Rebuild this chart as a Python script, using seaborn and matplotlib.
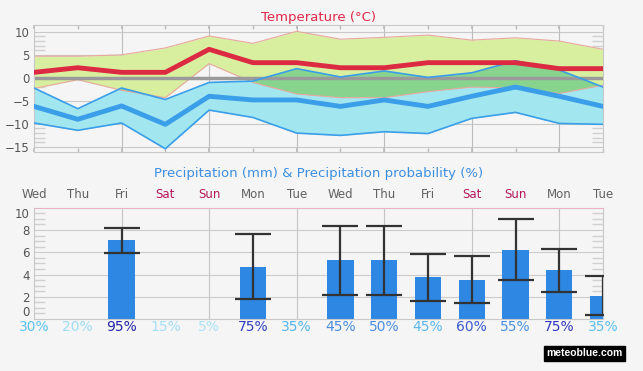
import numpy as np
import pandas as pd
import matplotlib
matplotlib.use("Agg")
import matplotlib.pyplot as plt
import matplotlib.transforms as mtransforms
import seaborn as sns

sns.set_theme(style="white")
plt.rcParams['font.family'] = ['DejaVu Sans']

# ---------------- data ----------------
days = ["Wed", "Thu", "Fri", "Sat", "Sun", "Mon", "Tue",
        "Wed", "Thu", "Fri", "Sat", "Sun", "Mon", "Tue"]
# max temperature (mean + spread)
tmax_mean = [1.2, 2.2, 1.2, 1.2, 6.2, 3.3, 3.3, 2.2, 2.2, 3.3, 3.3, 3.3, 2.0, 2.0]
tmax_high = [4.7, 4.7, 5.0, 6.5, 9.1, 7.5, 10.1, 8.4, 8.8, 9.3, 8.2, 8.7, 8.0, 6.2]
tmax_low = [-2.3, -0.4, -2.7, -4.3, 3.1, -1.0, -3.5, -4.3, -4.3, -3.0, -2.0, -2.2, -3.4, -1.6]
# min temperature (mean + spread)
tmin_mean = [-6.2, -9.0, -6.1, -10.1, -4.0, -4.8, -4.8, -6.2, -4.8, -6.2, -4.0, -2.0, -4.0, -6.2]
tmin_high = [-2.2, -6.7, -2.2, -4.7, -1.0, -0.7, 2.0, 0.2, 1.5, 0.1, 1.1, 3.7, 1.7, -2.0]
tmin_low = [-9.8, -11.4, -9.8, -15.4, -7.0, -8.6, -12.0, -12.5, -11.7, -12.1, -8.8, -7.5, -9.9, -10.1]
# precipitation
precip = [0, 0, 7.1, 0, 0, 4.7, 0, 5.3, 5.3, 3.8, 3.5, 6.2, 4.4, 2.1]
precip_lo = [np.nan, np.nan, 5.9, np.nan, np.nan, 1.8, np.nan, 2.2, 2.2, 1.65, 1.45, 3.5, 2.45, 0.4]
precip_hi = [np.nan, np.nan, 8.2, np.nan, np.nan, 7.65, np.nan, 8.35, 8.4, 5.85, 5.65, 8.95, 6.3, 3.85]
prob_labels = ["30%", "20%", "95%", "15%", "5%", "75%", "35%",
               "45%", "50%", "45%", "60%", "55%", "75%", "35%"]
prob_colors = ["#5ec4f0", "#9ddcf5", "#2424a8", "#a5dff5", "#aee2f7", "#3040c0", "#55b5ec",
               "#4a8ee0", "#4a8ee0", "#5bb8ee", "#3a5ad0", "#4a92e2", "#3038c0", "#5ec0f0"]
weekend_color = "#b5185a"
day_colors = [weekend_color if d in ("Sat", "Sun") else "#606060" for d in days]

idx = np.arange(len(days))
df_t = pd.DataFrame({"i": idx, "tmax": tmax_mean, "tmin": tmin_mean})
df_p = pd.DataFrame({"i": idx, "p": precip})

BG = "#f5f5f5"
fig = plt.figure(figsize=(6.43, 3.71), dpi=100, facecolor=BG)

# ---------------- temperature ----------------
ax1 = fig.add_axes([0.0529, 0.5916, 0.885, 0.340], facecolor=BG)
green, blue, dgreen = "#d9efa0", "#a2e6ef", "#88d48e"
ax1.fill_between(idx, tmax_low, tmax_high, color=green, lw=0, zorder=1)
ax1.fill_between(idx, tmin_low, tmin_high, color=blue, lw=0, zorder=1)
ov_lo = np.maximum(tmax_low, tmin_low)
ov_hi = np.minimum(tmax_high, tmin_high)
ax1.fill_between(idx, ov_lo, ov_hi, where=ov_hi > ov_lo, interpolate=True,
                 color=dgreen, lw=0, zorder=1.5)
ax1.plot(idx, tmax_high, color="#e8a8a0", lw=0.8, zorder=2)
ax1.plot(idx, tmax_low, color="#e8a8a0", lw=0.8, zorder=2)
ax1.axhline(0, color="#9a9a9a", lw=2.5, zorder=2.5)
ax1.plot(idx, tmin_high, color="#3a9ee8", lw=1.2, zorder=3)
ax1.plot(idx, tmin_low, color="#3a9ee8", lw=1.2, zorder=3)
sns.lineplot(data=df_t, x="i", y="tmin", ax=ax1, color="#3a9ee8", lw=3.5, zorder=4)
sns.lineplot(data=df_t, x="i", y="tmax", ax=ax1, color="#dc2a42", lw=3.5, zorder=5)

ax1.set_xlim(0, 13)
ax1.set_ylim(-16.0, 11.4)
ax1.set_xlabel("")
ax1.set_ylabel("")
ax1.set_yticks([10, 5, 0, -5, -10, -15])
ax1.set_yticks(np.arange(-15, 11, 1), minor=True)
ax1.set_xticks(idx[::2])
ax1.set_xticks(idx[1::2], minor=True)
ax1.tick_params(axis="x", which="both", labelbottom=False, direction="in",
                length=3, color="#bbbbbb", top=True, bottom=True)
ax1.tick_params(axis="y", which="major", labelsize=8.5, labelcolor="#555555",
                length=0, pad=3)
ax1.tick_params(axis="y", which="minor", direction="in", length=8, color="#d0d0d0",
                left=True, right=True)
for v in [10, 5, -5, -10, -15]:
    ax1.axhline(v, color="#c8c8c8", lw=0.8, zorder=0.5)
for v in idx[2::2]:
    ax1.axvline(v, color="#bdbdbd", lw=0.8, zorder=0.5)
for s in ax1.spines.values():
    s.set_color("#c8c8c8")
    s.set_linewidth(0.8)

fig.text(0.4953, 0.954, "Temperature (°C)", color="#e0284a", fontsize=9.5,
         ha="center", va="center")

# ---------------- precipitation ----------------
ax2 = fig.add_axes([0.0529, 0.140, 0.885, 0.300], facecolor=BG)
sns.barplot(data=df_p, x="i", y="p", ax=ax2, color="#2d87e3", width=0.6,
            saturation=1, zorder=2)
for p in ax2.patches:
    p.set_linewidth(0)
lo = np.array(precip_lo)
hi = np.array(precip_hi)
mask = ~np.isnan(lo)
ax2.errorbar(idx[mask], (lo[mask] + hi[mask]) / 2, yerr=(hi[mask] - lo[mask]) / 2,
             fmt="none", ecolor="#333333", elinewidth=1.6, capsize=13, capthick=1.6,
             zorder=3)
ax2.set_xlim(0, 13)
ax2.set_ylim(0, 10)
ax2.set_xlabel("")
ax2.set_ylabel("")
ax2.set_yticks([0, 2, 4, 6, 8, 10])
ax2.set_yticks(np.arange(0, 10.01, 0.5), minor=True)
ax2.tick_params(axis="y", which="major", labelsize=8.5, labelcolor="#555555",
                length=0, pad=3)
ax2.tick_params(axis="y", which="minor", direction="in", length=8, color="#d0d0d0",
                left=True, right=True)
ylabs = ax2.get_yticklabels()
ylabs[0].set_verticalalignment("bottom")
ylabs[-1].set_verticalalignment("top")
ax2.set_xticks(idx)
ax2.set_xticklabels(days)
ax2.tick_params(axis="x", which="major", labelbottom=False, labeltop=True, top=True,
                bottom=False, length=0, pad=5, labelsize=8.5)
for lab, c in zip(ax2.get_xticklabels(), day_colors):
    lab.set_color(c)
for v in [2, 4, 6, 8]:
    ax2.axhline(v, color="#cccccc", lw=0.8, zorder=0.5)
for v in idx[2::2]:
    ax2.axvline(v, color="#c4c4c4", lw=0.8, zorder=0.5)
for s in ax2.spines.values():
    s.set_color("#c8c8c8")
    s.set_linewidth(0.8)
ax2.spines["top"].set_color("#eab2c8")

trans = mtransforms.blended_transform_factory(ax2.transData, ax2.transAxes)
for i, (t, c) in enumerate(zip(prob_labels, prob_colors)):
    ax2.text(idx[i], -0.07, t, color=c, fontsize=10, ha="center", va="center",
             transform=trans, clip_on=False)

fig.text(0.4953, 0.531, "Precipitation (mm) & Precipitation probability (%)",
         color="#3b8ee0", fontsize=9.5, ha="center", va="center")

fig.text(0.909, 0.0472, "meteoblue.com", color="white", fontsize=7.5, fontweight="bold",
         family=["Liberation Sans", "DejaVu Sans"], ha="center", va="center",
         bbox=dict(boxstyle="square,pad=0.2", facecolor="black", edgecolor="black"))

fig.savefig("out.png", dpi=100, facecolor=BG)
